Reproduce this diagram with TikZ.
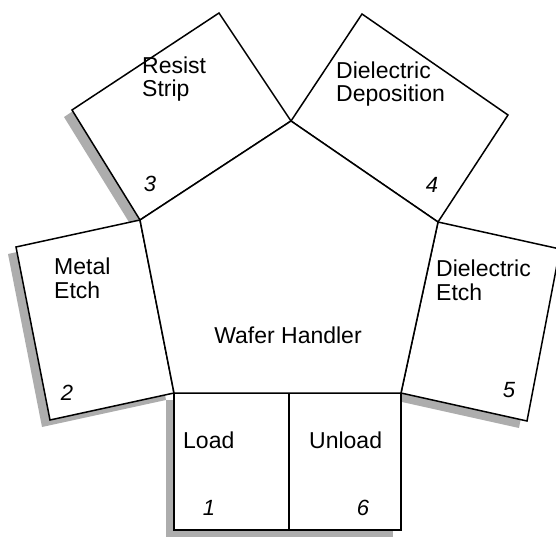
\documentclass[tikz,border=0pt]{standalone}
\usepackage{fontspec}
\setmainfont{Liberation Sans}
\newcommand\shd[1]{([shift={(-8,7)}]#1)}
\begin{document}
\begin{tikzpicture}[x=1pt,y=-1pt,
  room/.style={draw=black,fill=white,line width=1.5pt,line join=miter},
  shade/.style={fill=black!32},
  lbl/.style={anchor=base west,inner sep=0,align=left,font=\fontsize{23}{23.5}\selectfont},
  num/.style={inner sep=0,font=\fontsize{22}{23}\selectfont\itshape}]
\useasboundingbox (0,0) rectangle (556,537);
\clip (0,0) rectangle (556,537);
% pentagon (wafer handler)
\coordinate (pBL) at (174,393);
\coordinate (pBR) at (401,393);
\coordinate (pR)  at (438,222);
\coordinate (pT)  at (291,121);
\coordinate (pL)  at (140,220);
\coordinate (pM)  at (289,393);
% outer corners
\coordinate (rs1) at (72,110);
\coordinate (rs2) at (219,13);
\coordinate (dd1) at (362,14);
\coordinate (dd2) at (508,115);
\coordinate (de1) at (560,249);
\coordinate (de2) at (527,421);
\coordinate (me1) at (16,247);
\coordinate (me2) at (50,420);
\coordinate (ld1) at (174,530);
\coordinate (ld2) at (289,530);
\coordinate (ul2) at (401,530);
% shadows
\fill[shade] \shd{pL} -- \shd{rs1} -- \shd{rs2} -- \shd{pT} -- cycle;
\fill[shade] \shd{me1} -- \shd{pL} -- \shd{pBL} -- \shd{me2} -- cycle;
\fill[shade] \shd{pBL} -- \shd{ul2} |- \shd{ld1} -- cycle;
\fill[shade] \shd{pBL} -- \shd{pBR} -- \shd{ul2} -- \shd{ld1} -- cycle;
\fill[shade] \shd{pR} -- \shd{de1} -- \shd{de2} -- \shd{pBR} -- cycle;
% rooms
\draw[room] (pL) -- (rs1) -- (rs2) -- (pT) -- cycle;
\draw[room] (pT) -- (dd1) -- (dd2) -- (pR) -- cycle;
\draw[room] (pR) -- (de1) -- (de2) -- (pBR) -- cycle;
\draw[room] (me1) -- (pL) -- (pBL) -- (me2) -- cycle;
\draw[room] (pBL) -- (pM) -- (ld2) -- (ld1) -- cycle;
\draw[room] (pM) -- (pBR) -- (ul2) -- (ld2) -- cycle;
\draw[room] (pBL) -- (pBR) -- (pR) -- (pT) -- (pL) -- cycle;
% labels
\node[lbl] (tRS) at (142,97) {Resist\\Strip};
\node[lbl] (tDD) at (336,102) {Dielectric\\Deposition};
\node[lbl] (tME) at (54,298) {Metal\\Etch};
\node[lbl] (tDE) at (436,300) {Dielectric\\Etch};
\node[lbl,anchor=base] (tWH) at (288,343) {Wafer Handler};
\node[lbl] (tLD) at (183,448) {Load};
\node[lbl] (tUL) at (309,448) {Unload};
\node[num] (n1) at (209,508) {1};
\node[num] (n2) at (67,393) {2};
\node[num] (n3) at (150,184) {3};
\node[num] (n4) at (432,185) {4};
\node[num] (n5) at (509,390) {5};
\node[num] (n6) at (363,508) {6};
\end{tikzpicture}
\end{document}
